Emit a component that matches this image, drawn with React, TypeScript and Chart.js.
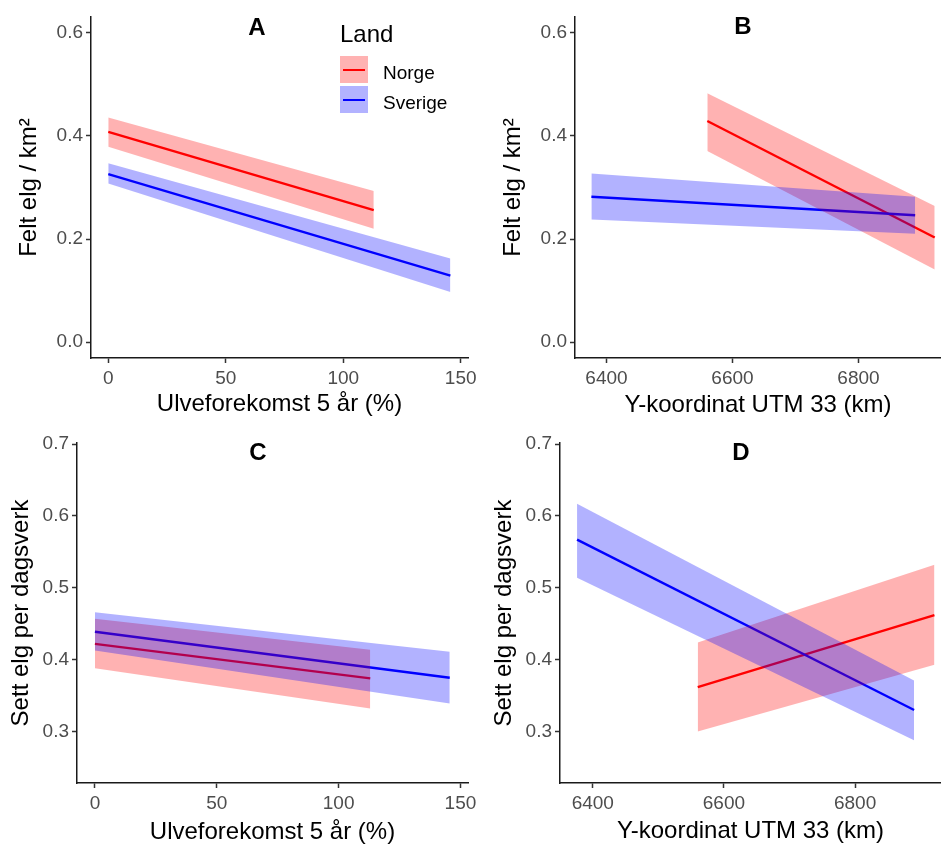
import React, { useEffect, useRef } from "react";
import { Chart, registerables } from "chart.js";

Chart.register(...registerables);

const FONT = "'Liberation Sans', Arial, Helvetica, sans-serif";
const TICK_COLOR = "#4D4D4D";
const AXIS_COLOR = "#1A1A1A";
const NORGE_LINE = "#FF0000";
const SVERIGE_LINE = "#0000FF";
const NORGE_FILL = "rgba(255,0,0,0.3)";
const SVERIGE_FILL = "rgba(0,0,255,0.3)";

// Legend
const legendTitle = "Land";
const countries = ["Norge", "Sverige"];

// Axis ticks
const wolfTicks = [0, 50, 100, 150];
const utmTicks = [6400, 6600, 6800];
const feltTicks = [0.0, 0.2, 0.4, 0.6];
const settTicks = [0.3, 0.4, 0.5, 0.6, 0.7];

// Panel A: Felt elg / km2 vs Ulveforekomst 5 år (%)
const aNorgeX = [0, 113];
const aNorgeFit = [0.408, 0.256];
const aNorgeUpper = [0.436, 0.293];
const aNorgeLower = [0.379, 0.22];
const aSverigeX = [0, 145.6];
const aSverigeFit = [0.326, 0.129];
const aSverigeUpper = [0.347, 0.162];
const aSverigeLower = [0.308, 0.097];

// Panel B: Felt elg / km2 vs Y-koordinat UTM 33 (km)
const bNorgeX = [6560, 6921];
const bNorgeFit = [0.429, 0.203];
const bNorgeUpper = [0.483, 0.264];
const bNorgeLower = [0.371, 0.141];
const bSverigeX = [6376, 6890];
const bSverigeFit = [0.282, 0.246];
const bSverigeUpper = [0.327, 0.282];
const bSverigeLower = [0.238, 0.21];

// Panel C: Sett elg per dagsverk vs Ulveforekomst 5 år (%)
const cNorgeX = [0, 113];
const cNorgeFit = [0.422, 0.374];
const cNorgeUpper = [0.457, 0.414];
const cNorgeLower = [0.388, 0.332];
const cSverigeX = [0, 145.6];
const cSverigeFit = [0.439, 0.375];
const cSverigeUpper = [0.466, 0.411];
const cSverigeLower = [0.413, 0.339];

// Panel D: Sett elg per dagsverk vs Y-koordinat UTM 33 (km)
const dNorgeX = [6560, 6921];
const dNorgeFit = [0.362, 0.462];
const dNorgeUpper = [0.424, 0.532];
const dNorgeLower = [0.3, 0.393];
const dSverigeX = [6376, 6890];
const dSverigeFit = [0.567, 0.33];
const dSverigeUpper = [0.617, 0.371];
const dSverigeLower = [0.514, 0.288];

type Series = { x: number[]; fit: number[]; upper: number[]; lower: number[] };

function pts(x: number[], y: number[]) {
  return x.map((v, i) => ({ x: v, y: y[i] }));
}

function buildDatasets(norge: Series, sverige: Series) {
  const hidden = { borderColor: "rgba(0,0,0,0)", borderWidth: 0, pointRadius: 0 };
  return [
    { label: "Sverige upper", data: pts(sverige.x, sverige.upper), fill: "+1", backgroundColor: SVERIGE_FILL, ...hidden, order: 0 },
    { label: "Sverige lower", data: pts(sverige.x, sverige.lower), fill: false, ...hidden, order: 0 },
    { label: "Norge upper", data: pts(norge.x, norge.upper), fill: "+1", backgroundColor: NORGE_FILL, ...hidden, order: 1 },
    { label: "Norge lower", data: pts(norge.x, norge.lower), fill: false, ...hidden, order: 1 },
    { label: "Sverige", data: pts(sverige.x, sverige.fit), fill: false, borderColor: SVERIGE_LINE, borderWidth: 2.4, pointRadius: 0, order: 2 },
    { label: "Norge", data: pts(norge.x, norge.fit), fill: false, borderColor: NORGE_LINE, borderWidth: 2.4, pointRadius: 0, order: 3 },
  ];
}

type PanelProps = {
  left: number;
  top: number;
  width: number;
  height: number;
  padTop: number;
  padRight: number;
  yWidth: number;
  xHeight: number;
  xMin: number;
  xMax: number;
  yMin: number;
  yMax: number;
  xTicks: number[];
  yTicks: number[];
  xTitle: string;
  yTitle: string;
  xTitlePad: number;
  yTitlePad: number;
  norge: Series;
  sverige: Series;
};

function Panel(p: PanelProps) {
  const ref = useRef<HTMLCanvasElement | null>(null);
  useEffect(() => {
    if (!ref.current) return;
    const tickFont = { family: FONT, size: 19 };
    const titleFont = { family: FONT, size: 24 };
    const grid = {
      display: true,
      drawOnChartArea: false,
      drawTicks: true,
      tickLength: 5,
      tickWidth: 1.5,
      tickColor: "#333333",
    };
    const border = { display: true, color: AXIS_COLOR, width: 1.5 };
    const chart = new Chart(ref.current, {
      type: "line",
      data: { datasets: buildDatasets(p.norge, p.sverige) as any },
      options: {
        animation: false,
        responsive: false,
        devicePixelRatio: 1,
        layout: { autoPadding: false, padding: { top: p.padTop, right: p.padRight, left: 0, bottom: 0 } },
        plugins: { legend: { display: false }, tooltip: { enabled: false }, title: { display: false } },
        scales: {
          x: {
            type: "linear",
            min: p.xMin,
            max: p.xMax,
            afterBuildTicks: (s: any) => {
              s.ticks = p.xTicks.map((v) => ({ value: v }));
            },
            afterFit: (s: any) => {
              s.height = p.xHeight;
              s.paddingLeft = 0;
              s.paddingRight = 0;
            },
            ticks: {
              color: TICK_COLOR,
              font: tickFont,
              padding: 4,
              autoSkip: false,
              maxRotation: 0,
              minRotation: 0,
              callback: (v: any) => String(v),
            },
            grid,
            border,
            title: { display: true, text: p.xTitle, color: "#000000", font: titleFont, padding: { top: 0, bottom: p.xTitlePad } },
          },
          y: {
            type: "linear",
            min: p.yMin,
            max: p.yMax,
            afterBuildTicks: (s: any) => {
              s.ticks = p.yTicks.map((v) => ({ value: v }));
            },
            afterFit: (s: any) => {
              s.width = p.yWidth;
              s.paddingTop = 0;
              s.paddingBottom = 0;
            },
            ticks: {
              color: TICK_COLOR,
              font: tickFont,
              padding: 3,
              autoSkip: false,
              callback: (v: any) => Number(v).toFixed(1),
            },
            grid,
            border,
            title: { display: true, text: p.yTitle, color: "#000000", font: titleFont, padding: { top: p.yTitlePad, bottom: 0 } },
          },
        },
      } as any,
    });
    return () => chart.destroy();
  }, []);
  return (
    <canvas
      ref={ref}
      width={p.width}
      height={p.height}
      style={{ position: "absolute", left: p.left, top: p.top, width: p.width, height: p.height }}
    />
  );
}

function Label({ text, cx, cy }: { text: string; cx: number; cy: number }) {
  return (
    <div
      style={{
        position: "absolute",
        left: cx - 30,
        top: cy - 12,
        width: 60,
        textAlign: "center",
        fontFamily: FONT,
        fontWeight: "bold",
        fontSize: 24,
        lineHeight: "24px",
        color: "#000",
      }}
    >
      {text}
    </div>
  );
}

function LegendKey({ top, fill, line }: { top: number; fill: string; line: string }) {
  return (
    <div style={{ position: "absolute", left: 340, top, width: 28, height: 27, background: fill }}>
      <div style={{ position: "absolute", left: 3, top: 13, width: 22, height: 2, background: line }} />
    </div>
  );
}

export default function App() {
  const wolfTitle = "Ulveforekomst 5 år (%)";
  const utmTitle = "Y-koordinat UTM 33 (km)";
  const feltTitle = "Felt elg / km²";
  const settTitle = "Sett elg per dagsverk";
  return (
    <div style={{ position: "absolute", left: 0, top: 0, width: 941, height: 847, background: "#fff", overflow: "hidden" }}>
      <Panel
        left={0} top={0} width={490} height={420} padTop={17} padRight={22} yWidth={91} xHeight={62}
        xMin={-7.35} xMax={153.1} yMin={-0.031} yMax={0.631} xTicks={wolfTicks} yTicks={feltTicks}
        xTitle={wolfTitle} yTitle={feltTitle} xTitlePad={1} yTitlePad={15}
        norge={{ x: aNorgeX, fit: aNorgeFit, upper: aNorgeUpper, lower: aNorgeLower }}
        sverige={{ x: aSverigeX, fit: aSverigeFit, upper: aSverigeUpper, lower: aSverigeLower }}
      />
      <Panel
        left={470} top={0} width={471} height={420} padTop={17} padRight={0} yWidth={105} xHeight={62}
        xMin={6350} xMax={6931} yMin={-0.031} yMax={0.631} xTicks={utmTicks} yTicks={feltTicks}
        xTitle={utmTitle} yTitle={feltTitle} xTitlePad={0} yTitlePad={29}
        norge={{ x: bNorgeX, fit: bNorgeFit, upper: bNorgeUpper, lower: bNorgeLower }}
        sverige={{ x: bSverigeX, fit: bSverigeFit, upper: bSverigeUpper, lower: bSverigeLower }}
      />
      <Panel
        left={0} top={420} width={490} height={427} padTop={23} padRight={22} yWidth={77} xHeight={64}
        xMin={-7.35} xMax={153.1} yMin={0.2285} yMax={0.7015} xTicks={wolfTicks} yTicks={settTicks}
        xTitle={wolfTitle} yTitle={settTitle} xTitlePad={0} yTitlePad={7}
        norge={{ x: cNorgeX, fit: cNorgeFit, upper: cNorgeUpper, lower: cNorgeLower }}
        sverige={{ x: cSverigeX, fit: cSverigeFit, upper: cSverigeUpper, lower: cSverigeLower }}
      />
      <Panel
        left={470} top={420} width={471} height={427} padTop={23} padRight={0} yWidth={90} xHeight={64}
        xMin={6350} xMax={6931} yMin={0.2285} yMax={0.7015} xTicks={utmTicks} yTicks={settTicks}
        xTitle={utmTitle} yTitle={settTitle} xTitlePad={1} yTitlePad={20}
        norge={{ x: dNorgeX, fit: dNorgeFit, upper: dNorgeUpper, lower: dNorgeLower }}
        sverige={{ x: dSverigeX, fit: dSverigeFit, upper: dSverigeUpper, lower: dSverigeLower }}
      />
      <Label text="A" cx={257} cy={27} />
      <Label text="B" cx={743} cy={26} />
      <Label text="C" cx={258} cy={452} />
      <Label text="D" cx={741} cy={452} />
      <div style={{ position: "absolute", left: 340, top: 22, fontFamily: FONT, fontSize: 24, lineHeight: "24px", color: "#000" }}>
        {legendTitle}
      </div>
      <LegendKey top={56} fill={NORGE_FILL} line={NORGE_LINE} />
      <LegendKey top={86} fill={SVERIGE_FILL} line={SVERIGE_LINE} />
      <div style={{ position: "absolute", left: 383, top: 63, fontFamily: FONT, fontSize: 19, lineHeight: "19px", color: "#000" }}>
        {countries[0]}
      </div>
      <div style={{ position: "absolute", left: 383, top: 93, fontFamily: FONT, fontSize: 19, lineHeight: "19px", color: "#000" }}>
        {countries[1]}
      </div>
    </div>
  );
}
